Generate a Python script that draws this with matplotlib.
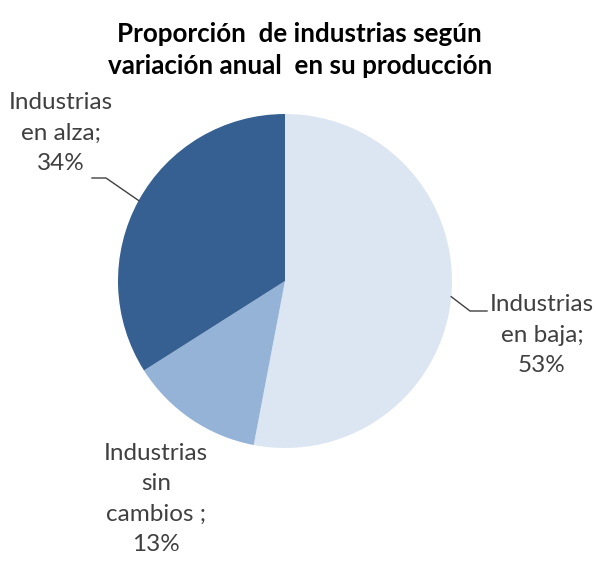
import numpy as np
import matplotlib
matplotlib.use("Agg")
import matplotlib.pyplot as plt

# data
categories = ["Industrias\nen baja;\n53%", "Industrias\nsin\ncambios ;\n13%", "Industrias\nen alza;\n34%"]
shares = [53, 13, 34]
colors = ["#dce6f2", "#95b3d7", "#366092"]
title = "Proporción  de industrias según\nvariación anual  en su producción"

W, H = 596, 561
fig = plt.figure(figsize=(W / 100, H / 100), dpi=100)
ax = fig.add_axes([0, 0, 1, 1])

cx, cy, r = 285, H - 281, 167
wedges, _ = ax.pie(shares, colors=colors, startangle=90, counterclock=False,
                   center=(cx, cy), radius=r, frame=True,
                   wedgeprops=dict(linewidth=0))
ax.set_xlim(0, W)
ax.set_ylim(0, H)
ax.set_aspect("equal")
ax.axis("off")

fam = ["Lato", "DejaVu Sans"]
txt_color = "#404040"
lab_size = 17.5
lab_ls = 1.55

fig.text(0.503, 1 - 50 / H, title, ha="center", va="center", fontsize=18.7,
         fontweight="bold", color="black", linespacing=1.45, family=fam)


def edge_point(w):
    ang = np.deg2rad((w.theta1 + w.theta2) / 2)
    return cx + r * np.cos(ang), cy + r * np.sin(ang)


# en baja: leader line to the right
ex, ey = edge_point(wedges[0])
ax.plot([ex, 470, 487], [ey, H - 311, H - 311], color="#404040", lw=1)
ax.text(542, H - 335, categories[0], ha="center", va="center", fontsize=lab_size,
        color=txt_color, linespacing=lab_ls, family=fam)

# sin cambios: no leader
ax.text(156, H - 499, categories[1], ha="center", va="center", fontsize=lab_size,
        color=txt_color, linespacing=lab_ls, family=fam)

# en alza: leader line to the left
ex, ey = edge_point(wedges[2])
ax.plot([ex, 106, 92], [ey, H - 178, H - 178], color="#404040", lw=1)
ax.text(61, H - 133, categories[2], ha="center", va="center", fontsize=lab_size,
        color=txt_color, linespacing=lab_ls, family=fam)

fig.savefig("out.png", dpi=100)
